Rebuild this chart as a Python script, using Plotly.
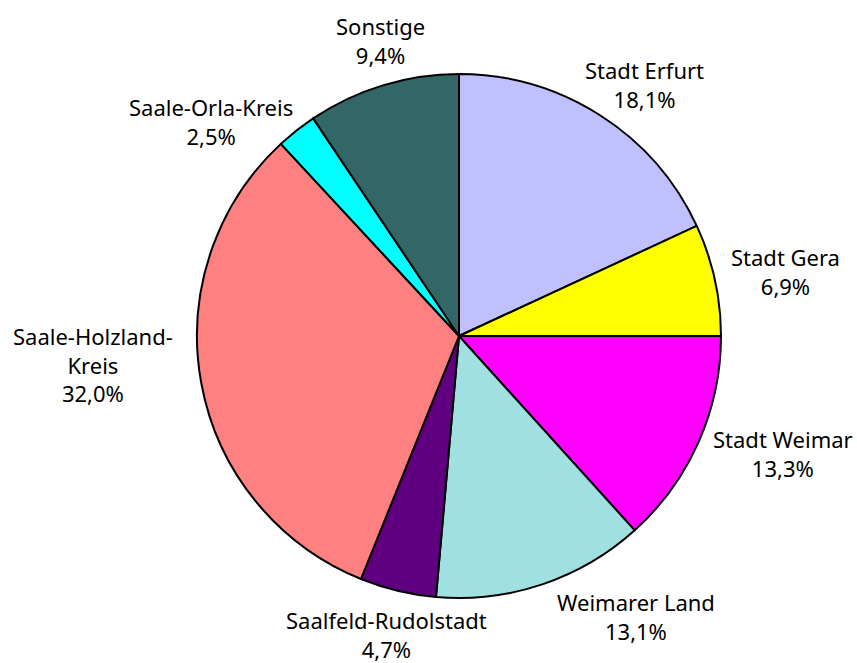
import plotly.graph_objects as go

labels = ["Stadt Erfurt", "Stadt Gera", "Stadt Weimar", "Weimarer Land",
          "Saalfeld-Rudolstadt", "Saale-Holzland-<br>Kreis", "Saale-Orla-Kreis", "Sonstige"]
values = [18.1, 6.9, 13.3, 13.1, 4.7, 32.0, 2.5, 9.4]
colors = ["#C0C0FF", "#FFFF00", "#FF00FF", "#A0E0E0",
          "#600080", "#FF8080", "#00FFFF", "#336666"]

# label block centres in pixels (layout only)
label_px = [(644, 85), (785, 271), (783, 453), (636, 616),
            (386, 634), (93, 364), (211, 121), (380, 40)]

W, H = 857, 663
cx, cy, r = 459, 336, 262
FONT = "Noto Sans"

fig = go.Figure(go.Pie(
    labels=labels, values=values, sort=False, direction="clockwise", rotation=0,
    marker=dict(colors=colors, line=dict(color="black", width=2)),
    textinfo="none",
    showlegend=False, hoverinfo="label+value",
    domain=dict(x=[(cx - r) / W, (cx + r) / W], y=[1 - (cy + r) / H, 1 - (cy - r) / H]),
))

for lab, val, (px, py) in zip(labels, values, label_px):
    txt = f"{lab}<br>{val:.1f}%".replace(".", ",")
    fig.add_annotation(x=px / W, y=1 - py / H, xref="paper", yref="paper",
                       text=txt, showarrow=False, xanchor="center", yanchor="middle",
                       align="center", font=dict(family=FONT, size=22, color="black"))

fig.update_layout(width=W, height=H, margin=dict(l=0, r=0, t=0, b=0),
                  paper_bgcolor="white", plot_bgcolor="white")
fig.write_html("out.html", config={"displayModeBar": False},
               post_script="document.body.style.margin='0';")
